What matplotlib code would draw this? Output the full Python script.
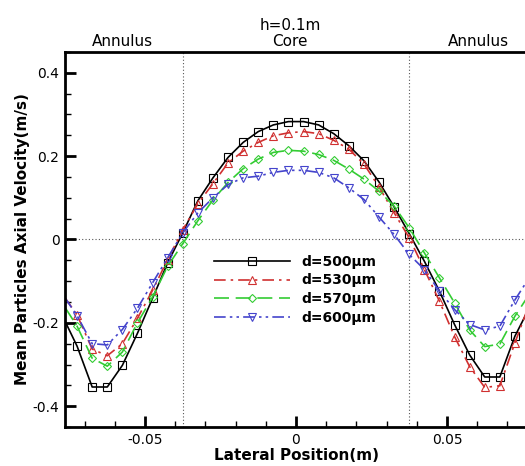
import numpy as np
import matplotlib
matplotlib.use("Agg")
import matplotlib.pyplot as plt
from matplotlib.ticker import MultipleLocator, FuncFormatter

# Lateral positions (m): edge, marker points, edge
x_pos = [-0.0765, -0.0725, -0.0675, -0.0625, -0.0575, -0.0525, -0.0475, -0.0425, -0.0375,
         -0.0325, -0.0275, -0.0225, -0.0175, -0.0125, -0.0075, -0.0025, 0.0025, 0.0075,
         0.0125, 0.0175, 0.0225, 0.0275, 0.0325, 0.0375, 0.0425, 0.0475, 0.0525, 0.0575,
         0.0625, 0.0675, 0.0725, 0.0765]

v_500 = [-0.196, -0.256, -0.354, -0.354, -0.302, -0.225, -0.141, -0.056, 0.016, 0.093, 0.148,
         0.197, 0.233, 0.259, 0.275, 0.283, 0.283, 0.275, 0.254, 0.225, 0.189, 0.138, 0.078,
         0.014, -0.052, -0.124, -0.204, -0.277, -0.330, -0.330, -0.232, -0.175]
v_530 = [-0.140, -0.181, -0.263, -0.279, -0.250, -0.189, -0.122, -0.048, 0.023, 0.086, 0.134,
         0.184, 0.212, 0.233, 0.249, 0.256, 0.259, 0.254, 0.238, 0.217, 0.181, 0.126, 0.064,
         0.004, -0.072, -0.148, -0.233, -0.305, -0.355, -0.351, -0.248, -0.170]
v_570 = [-0.163, -0.208, -0.285, -0.304, -0.270, -0.200, -0.138, -0.064, -0.010, 0.045, 0.095,
         0.137, 0.170, 0.193, 0.209, 0.214, 0.212, 0.204, 0.190, 0.169, 0.145, 0.116, 0.080,
         0.028, -0.032, -0.092, -0.152, -0.217, -0.257, -0.251, -0.184, -0.140]
v_600 = [-0.140, -0.183, -0.250, -0.253, -0.216, -0.165, -0.104, -0.044, 0.016, 0.064, 0.100,
         0.132, 0.148, 0.152, 0.161, 0.166, 0.166, 0.161, 0.148, 0.124, 0.096, 0.054, 0.012,
         -0.036, -0.072, -0.124, -0.168, -0.204, -0.217, -0.208, -0.145, -0.100]

labels = ["d=500\u03bcm", "d=530\u03bcm", "d=570\u03bcm", "d=600\u03bcm"]
core_bound = 0.0375

fig = plt.figure(figsize=(5.25, 4.66), dpi=100)
ax = fig.add_axes([65/525, 39/466, 462/525, 375/466])

styles = [
    dict(color="black", linestyle="-", marker="s"),
    dict(color="#d03030", linestyle=(0, (7, 3, 1.5, 3)), marker="^"),
    dict(color="#33cc33", linestyle=(0, (9, 4)), marker="D"),
    dict(color="#4444cc", linestyle=(0, (7, 2.5, 1.5, 2.5, 1.5, 2.5)), marker="v"),
]
series = [v_500, v_530, v_570, v_600]
for vals, st, lab in zip(series, styles, labels):
    ms = 4.2 if st["marker"] == "D" else 5.5
    ax.plot(x_pos, vals, color=st["color"], linestyle=st["linestyle"], lw=1.2,
            marker=st["marker"], markersize=ms, markerfacecolor="none",
            markeredgecolor=st["color"], markeredgewidth=0.8,
            markevery=slice(1, len(x_pos) - 1), label=lab)

ax.axvline(-core_bound, color="#555555", lw=0.8, linestyle=(0, (1, 2)), zorder=0)
ax.axvline(core_bound, color="#555555", lw=0.8, linestyle=(0, (1, 2)), zorder=0)
ax.axhline(0, color="#555555", lw=0.8, linestyle=(0, (1, 2)), zorder=0)

ax.set_xlim(-0.0765, 0.0765)
ax.set_ylim(-0.45, 0.45)
ax.xaxis.set_major_locator(MultipleLocator(0.05))
ax.xaxis.set_minor_locator(MultipleLocator(0.01))
ax.yaxis.set_major_locator(MultipleLocator(0.2))
ax.yaxis.set_minor_locator(MultipleLocator(0.05))
ax.xaxis.set_major_formatter(FuncFormatter(lambda v, p: "0" if abs(v) < 1e-9 else f"{v:g}"))
ax.yaxis.set_major_formatter(FuncFormatter(lambda v, p: "0" if abs(v) < 1e-9 else f"{v:g}"))
ax.tick_params(which="major", direction="in", length=8, width=2, labelsize=10, pad=4,
               top=False, right=False)
ax.tick_params(which="minor", direction="in", length=4, width=1, top=False, right=False)
for s in ["left", "bottom", "top", "right"]:
    ax.spines[s].set_linewidth(2)

ax.set_xlabel("Lateral Position(m)", fontsize=11, fontweight="bold", labelpad=1)
ax.set_ylabel("Mean Particles Axial Velocity(m/s)", fontsize=11, fontweight="bold", labelpad=2)

fig.text(290/525, 1 - 25/466, "h=0.1m", ha="center", va="center", fontsize=11)
fig.text(290/525, 1 - 42/466, "Core", ha="center", va="center", fontsize=11)
fig.text(122/525, 1 - 42/466, "Annulus", ha="center", va="center", fontsize=11)
fig.text(478/525, 1 - 42/466, "Annulus", ha="center", va="center", fontsize=11)

leg = ax.legend(loc="upper left", bbox_to_anchor=(0.295, 0.493), frameon=False,
                handlelength=5.5, handletextpad=0.8, labelspacing=0.35,
                prop=dict(size=10, weight="bold"))

fig.savefig("out.png", dpi=100)
